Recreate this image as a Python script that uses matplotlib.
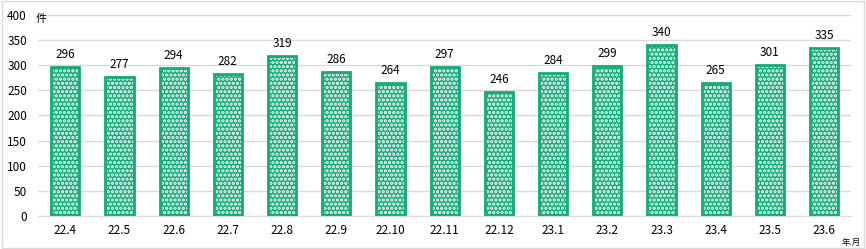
import matplotlib.pyplot as plt
import matplotlib as mpl

# monthly counts (year.month)
months = ['22.4', '22.5', '22.6', '22.7', '22.8', '22.9', '22.10', '22.11',
          '22.12', '23.1', '23.2', '23.3', '23.4', '23.5', '23.6']
counts = [296, 277, 294, 282, 319, 286, 264, 297, 246, 284, 299, 340, 265, 301, 335]
yticks = [0, 50, 100, 150, 200, 250, 300, 350, 400]

plt.rcParams['font.family'] = ['Noto Sans CJK JP', 'DejaVu Sans']
mpl.rcParams['hatch.linewidth'] = 1.6

GREEN = '#16a97a'

fig = plt.figure(figsize=(8.66, 2.49), dpi=100)
ax = fig.add_axes([0.044, 0.1325, 0.939, 0.8075])

x = range(len(months))
# green base, white dot pattern on top, then green outline
ax.bar(x, counts, width=0.52, color=GREEN, linewidth=0, zorder=2)
ax.bar(x, counts, width=0.52, facecolor='none', edgecolor='white',
       hatch='....', linewidth=0, zorder=3)
ax.bar(x, counts, width=0.52, facecolor='none', edgecolor=GREEN,
       linewidth=2, zorder=4)

for i, v in enumerate(counts):
    ax.text(i, v + 12, str(v), ha='center', va='bottom', fontsize=8.5)

ax.set_xlim(-0.5, len(months) - 0.5)
ax.set_ylim(0, 400)
ax.set_yticks(yticks)
ax.set_xticks(list(x))
ax.set_xticklabels(months)
ax.tick_params(axis='both', length=0, labelsize=8.5)
ax.tick_params(axis='y', pad=8)
ax.tick_params(axis='x', pad=6)
ax.grid(axis='y', color='#d9d9d9', linewidth=1, zorder=0)
ax.set_axisbelow(True)
for s in ['top', 'right', 'left']:
    ax.spines[s].set_visible(False)
ax.spines['bottom'].set_color('#d9d9d9')

fig.text(0.041, 0.925, '件', fontsize=8, ha='left', va='center')
fig.text(0.983, 0.025, '年.月', fontsize=6, ha='center', va='center')

# outer border
fig.patches.append(plt.Rectangle((0.002, 0.004), 0.996, 0.992, transform=fig.transFigure,
                                 fill=False, edgecolor='#d9d9d9', linewidth=1))

fig.savefig('out.png', dpi=100)
